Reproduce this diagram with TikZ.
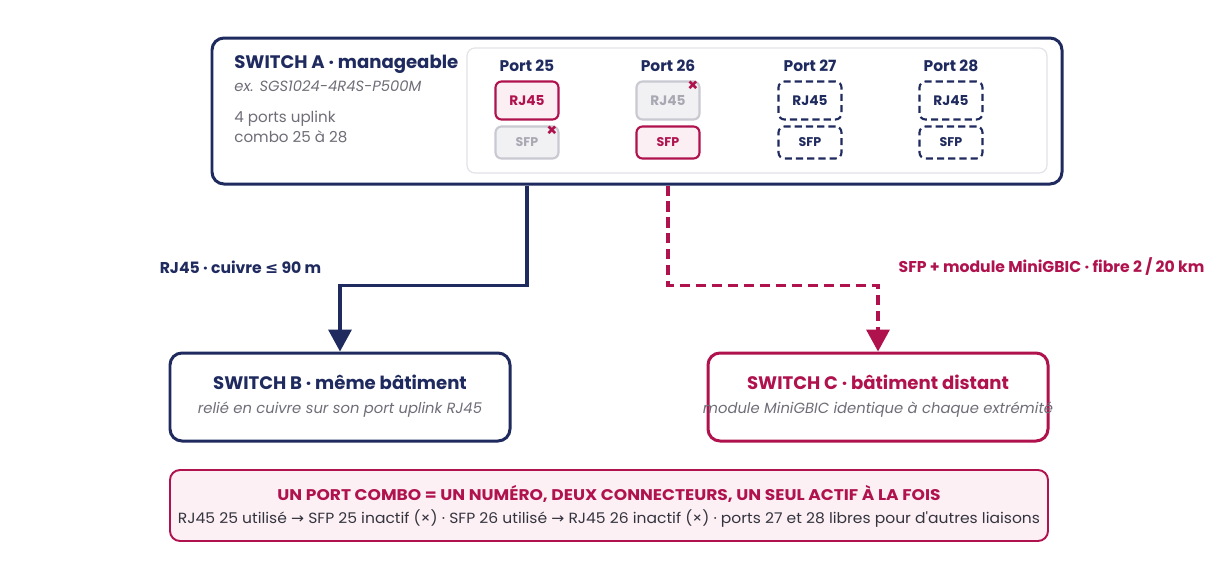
\documentclass[tikz,border=0pt]{standalone}
\usepackage{graphicx}
\usepackage{fontspec}
\setmainfont{Poppins}
\newfontfamily\symfont{DejaVu Sans}
\usetikzlibrary{arrows.meta}

\definecolor{navy}{HTML}{1F2A5E}
\definecolor{crimson}{HTML}{B0124E}
\definecolor{greytxt}{HTML}{6E6E78}
\definecolor{darktxt}{HTML}{34343E}
\definecolor{offline}{HTML}{C9C9D1}
\definecolor{offfill}{HTML}{F1F1F4}
\definecolor{offtxt}{HTML}{A8A8B3}
\definecolor{onfill}{HTML}{FCEFF3}
\definecolor{panel}{HTML}{E3E3E8}
\definecolor{notefill}{HTML}{FCF0F4}

\tikzset{
  switchbox/.style={draw=navy, line width=1.7pt, rounded corners=0.24cm, fill=white},
  boxtitle/.style={font=\bfseries\fontsize{10.3}{12}\selectfont},
  boxnote/.style={text=greytxt, font=\itshape\fontsize{8.4}{10}\selectfont},
  porttitle/.style={anchor=base, text=navy, font=\bfseries\fontsize{8.8}{10}\selectfont},
  plug/.style={rounded corners=0.12cm, line width=1.2pt, minimum width=1.26cm,
    font=\bfseries\fontsize{7.8}{9}\selectfont},
  rjplug/.style={plug, minimum height=0.76cm},
  sfpplug/.style={plug, minimum height=0.64cm, font=\bfseries\fontsize{7.2}{8}\selectfont},
  inuse/.style={draw=crimson, fill=onfill, text=crimson},
  unused/.style={draw=offline, fill=offfill, text=offtxt},
  spare/.style={draw=navy, dash pattern=on 4pt off 2.4pt, fill=white, text=navy},
  xmark/.style={text=crimson, inner sep=0pt, font=\bfseries\fontsize{10}{10}\selectfont},
  linklabel/.style={font=\bfseries\fontsize{8.9}{10}\selectfont},
  bigtip/.style={-{Triangle[width=0.46cm,length=0.44cm]}}
}

\begin{document}
\begin{tikzpicture}
\useasboundingbox[fill=white] (0,0) rectangle (24.36,-11.36);

% switch A with its combo ports
\node[switchbox, minimum width=17cm, minimum height=2.92cm] (swa) at (12.74,-2.22) {};
\node[draw=panel, line width=0.7pt, rounded corners=0.16cm, minimum width=11.6cm, minimum height=2.5cm] (panel) at (15.14,-2.21) {};
\node[anchor=base west, inner sep=0pt, text=navy, boxtitle] (atitle) at (4.68,-1.37) {SWITCH A · manageable};
\node[anchor=base west, inner sep=0pt, boxnote] (amodel) at (4.68,-1.82) {ex. SGS1024-4R4S-P500M};
\node[anchor=base west, inner sep=0pt, text=greytxt, font=\fontsize{8.6}{10}\selectfont] (aports) at (4.68,-2.45) {4 ports uplink};
\node[anchor=base west, inner sep=0pt, text=greytxt, font=\fontsize{8.6}{10}\selectfont] (acombo) at (4.68,-2.85) {combo 25 à 28};

\foreach \n/\x in {25/10.54, 26/13.36, 27/16.20, 28/19.02}
  \node[porttitle] (port\n) at (\x,-1.42) {Port \n};

\node[rjplug, inuse] (rj25) at (10.54,-2.01) {RJ45};
\node[sfpplug, unused] (sfp25) at (10.54,-2.85) {SFP};
\node[rjplug, unused] (rj26) at (13.36,-2.01) {RJ45};
\node[sfpplug, inuse] (sfp26) at (13.36,-2.85) {SFP};
\node[rjplug, spare] (rj27) at (16.20,-2.01) {RJ45};
\node[sfpplug, spare] (sfp27) at (16.20,-2.85) {SFP};
\node[rjplug, spare] (rj28) at (19.02,-2.01) {RJ45};
\node[sfpplug, spare] (sfp28) at (19.02,-2.85) {SFP};
\node[xmark, xshift=-0.15cm, yshift=-0.12cm] (x25) at (sfp25.north east) {×};
\node[xmark, xshift=-0.15cm, yshift=-0.12cm] (x26) at (rj26.north east) {×};

% switches B and C
\node[switchbox, minimum width=6.8cm, minimum height=1.76cm] (swb) at (6.8,-7.94) {};
\node[text=navy, boxtitle] (btitle) at ([yshift=0.3cm]swb.center) {SWITCH B · même bâtiment};
\node[boxnote] (bnote) at ([yshift=-0.25cm]swb.center) {relié en cuivre sur son port uplink RJ45};

\node[switchbox, draw=crimson, minimum width=6.8cm, minimum height=1.76cm] (swc) at (17.56,-7.94) {};
\node[text=crimson, boxtitle] (ctitle) at ([yshift=0.3cm]swc.center) {SWITCH C · bâtiment distant};
\node[boxnote] (cnote) at ([yshift=-0.25cm]swc.center) {module MiniGBIC identique à chaque extrémité};

% links
\draw[navy, line width=2pt, bigtip] (rj25 |- swa.south) -- ++(0,-2) -| (swb.north);
\draw[crimson, line width=2pt, dash pattern=on 5.7pt off 3.4pt, bigtip] (sfp26 |- swa.south) -- ++(0,-2) -| (swc.north);
\node[linklabel, text=navy] (cuivre) at (4.81,-5.34) {RJ45 · cuivre {\symfont ≤} 90 m};
\node[linklabel, text=crimson] (fibre) at (21.03,-5.34) {SFP + module MiniGBIC · fibre 2 / 20 km};

% note
\node[draw=crimson, fill=notefill, line width=1.1pt, rounded corners=0.2cm, minimum width=17.56cm, minimum height=1.42cm] (note) at (12.18,-10.11) {};
\node[text=crimson, font=\bfseries\fontsize{8.8}{10}\selectfont] (notetitle) at (12.18,-9.88)
  {\resizebox{13.26cm}{\height}{UN PORT COMBO = UN NUMÉRO, DEUX CONNECTEURS, UN SEUL ACTIF À LA FOIS}};
\node[text=darktxt, font=\fontsize{8.4}{10}\selectfont] (notetext) at (12.18,-10.38)
  {\resizebox{17.24cm}{\height}{RJ45 25 utilisé {\symfont →} SFP 25 inactif (×) · SFP 26 utilisé {\symfont →} RJ45 26 inactif (×) · ports 27 et 28 libres pour d\textquotesingle autres liaisons}};
\end{tikzpicture}
\end{document}
